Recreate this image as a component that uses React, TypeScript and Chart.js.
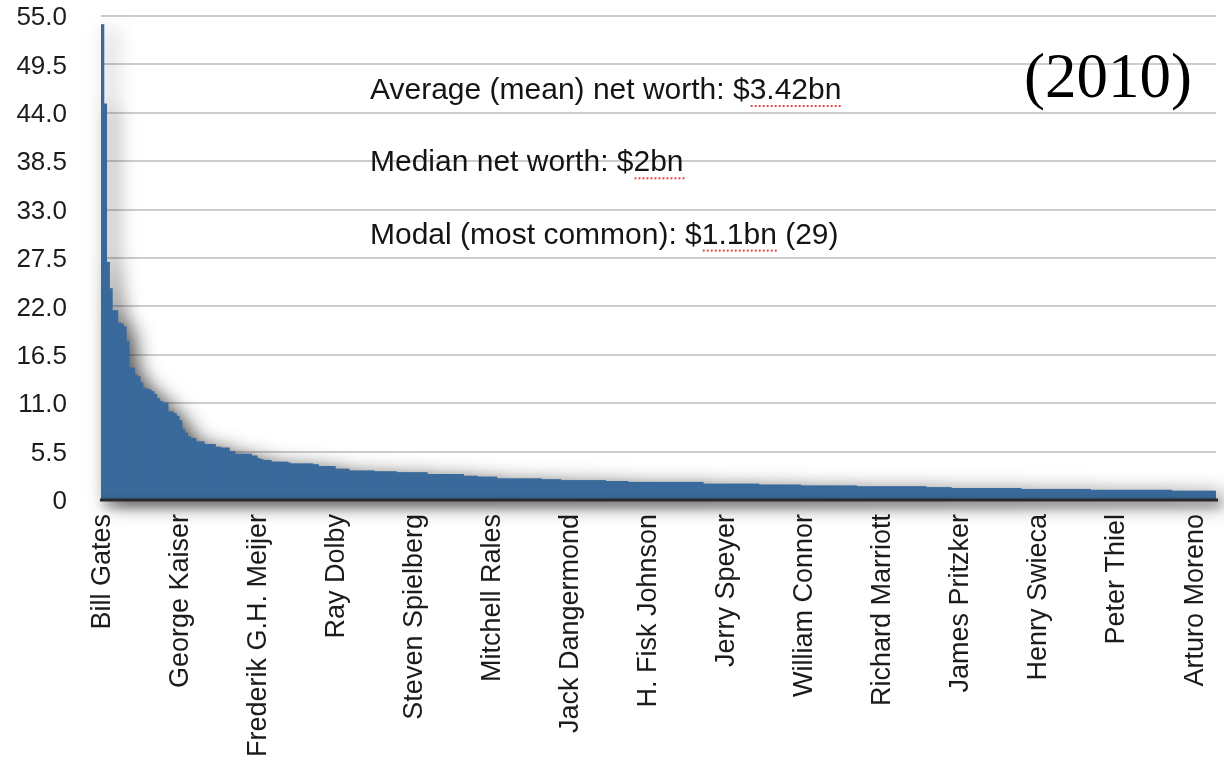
import React, { useEffect, useRef } from 'react';
import { Chart, registerables } from 'chart.js';

Chart.register(...registerables);

// Net worth in US$ billions, ranked from richest to poorest (400 people).
const netWorth = [
  54, 45, 27, 24, 21.5, 21.5, 20.1, 20, 19.7, 18,
  15, 15, 14.2, 14, 13.3, 12.7, 12.6, 12.5, 12.3, 12,
  11.5, 11.2, 11, 11, 10, 10, 9.8, 9.5, 9, 8,
  7.6, 7.2, 7, 7, 6.6, 6.6, 6.6, 6.3, 6.3, 6.3,
  6.3, 6, 6, 5.9, 5.9, 5.9, 5.5, 5.5, 5.2, 5.2,
  5.2, 5.2, 5.2, 5.2, 5, 5, 4.7, 4.6, 4.5, 4.5,
  4.5, 4.3, 4.3, 4.3, 4.3, 4.3, 4.3, 4.2, 4.1, 4.1,
  4.1, 4.1, 4.1, 4.1, 4.1, 4.1, 4, 4, 3.8, 3.8,
  3.8, 3.8, 3.8, 3.8, 3.5, 3.5, 3.5, 3.5, 3.5, 3.3,
  3.3, 3.3, 3.3, 3.3, 3.3, 3.3, 3.3, 3.3, 3.2, 3.2,
  3.2, 3.2, 3.2, 3.2, 3.2, 3.2, 3.1, 3.1, 3.1, 3.1,
  3.1, 3.1, 3.1, 3.1, 3.1, 3.1, 3.1, 2.9, 2.9, 2.9,
  2.9, 2.9, 2.9, 2.9, 2.9, 2.9, 2.9, 2.9, 2.9, 2.9,
  2.7, 2.7, 2.7, 2.7, 2.7, 2.6, 2.6, 2.6, 2.6, 2.6,
  2.6, 2.6, 2.4, 2.4, 2.4, 2.4, 2.4, 2.4, 2.4, 2.4,
  2.4, 2.4, 2.4, 2.4, 2.4, 2.4, 2.4, 2.4, 2.3, 2.3,
  2.3, 2.3, 2.3, 2.3, 2.3, 2.2, 2.2, 2.2, 2.2, 2.2,
  2.2, 2.2, 2.2, 2.2, 2.2, 2.2, 2.2, 2.2, 2.2, 2.2,
  2.2, 2.1, 2.1, 2.1, 2.1, 2.1, 2.1, 2.1, 2.1, 2,
  2, 2, 2, 2, 2, 2, 2, 2, 2, 2,
  2, 2, 2, 2, 2, 2, 2, 2, 2, 2,
  2, 2, 2, 2, 2, 2, 1.8, 1.8, 1.8, 1.8,
  1.8, 1.8, 1.8, 1.8, 1.8, 1.8, 1.8, 1.8, 1.8, 1.8,
  1.8, 1.8, 1.8, 1.8, 1.8, 1.8, 1.7, 1.7, 1.7, 1.7,
  1.7, 1.7, 1.7, 1.7, 1.7, 1.7, 1.7, 1.7, 1.7, 1.7,
  1.7, 1.6, 1.6, 1.6, 1.6, 1.6, 1.6, 1.6, 1.6, 1.6,
  1.6, 1.6, 1.6, 1.6, 1.6, 1.6, 1.6, 1.6, 1.6, 1.6,
  1.6, 1.5, 1.5, 1.5, 1.5, 1.5, 1.5, 1.5, 1.5, 1.5,
  1.5, 1.5, 1.5, 1.5, 1.5, 1.5, 1.5, 1.5, 1.5, 1.5,
  1.5, 1.5, 1.5, 1.5, 1.5, 1.5, 1.4, 1.4, 1.4, 1.4,
  1.4, 1.4, 1.4, 1.4, 1.4, 1.3, 1.3, 1.3, 1.3, 1.3,
  1.3, 1.3, 1.3, 1.3, 1.3, 1.3, 1.3, 1.3, 1.3, 1.3,
  1.3, 1.3, 1.3, 1.3, 1.3, 1.3, 1.3, 1.3, 1.3, 1.3,
  1.2, 1.2, 1.2, 1.2, 1.2, 1.2, 1.2, 1.2, 1.2, 1.2,
  1.2, 1.2, 1.2, 1.2, 1.2, 1.2, 1.2, 1.2, 1.2, 1.2,
  1.2, 1.2, 1.2, 1.2, 1.2, 1.1, 1.1, 1.1, 1.1, 1.1,
  1.1, 1.1, 1.1, 1.1, 1.1, 1.1, 1.1, 1.1, 1.1, 1.1,
  1.1, 1.1, 1.1, 1.1, 1.1, 1.1, 1.1, 1.1, 1.1, 1.1,
  1.1, 1.1, 1.1, 1.1, 1, 1, 1, 1, 1, 1,
  1, 1, 1, 1, 1, 1, 1, 1, 1, 1,
];

// Names printed under the axis: one every LABEL_EVERY places in the ranking.
const labeledNames = [
  'Bill Gates',
  'George Kaiser',
  'Frederik G.H. Meijer',
  'Ray Dolby',
  'Steven Spielberg',
  'Mitchell Rales',
  'Jack Dangermond',
  'H. Fisk Johnson',
  'Jerry Speyer',
  'William Connor',
  'Richard Marriott',
  'James Pritzker',
  'Henry Swieca',
  'Peter Thiel',
  'Arturo Moreno',
];
const LABEL_EVERY = 28;

const yTicks = [0, 5.5, 11, 16.5, 22, 27.5, 33, 38.5, 44, 49.5, 55];

const summaryLines = [
  { text: 'Average (mean) net worth: $3.42bn', flagged: '3.42bn' },
  { text: 'Median net worth: $2bn', flagged: '2bn' },
  { text: 'Modal (most common): $1.1bn (29)', flagged: '1.1bn' },
];
const yearLabel = '(2010)';

const BAR_COLOR = '#3a6a9b';
const SANS = '"Liberation Sans", Arial, Helvetica, sans-serif';
const SERIF = '"Liberation Serif", "Times New Roman", serif';

const categories = netWorth.map((_, i) =>
  i % LABEL_EVERY === 0 ? labeledNames[i / LABEL_EVERY] ?? '' : ''
);

// Soft drop shadow behind the bar silhouette (one stepped outline, so the
// individual bars do not shade each other).
const stepShadowPlugin = {
  id: 'stepShadow',
  beforeDatasetsDraw(chart: any) {
    const bars = chart.getDatasetMeta(0).data as any[];
    if (!bars.length) return;
    const base = chart.scales.y.getPixelForValue(0);
    const ctx: CanvasRenderingContext2D = chart.ctx;
    ctx.save();
    ctx.beginPath();
    ctx.moveTo(bars[0].x - bars[0].width / 2, base);
    for (const b of bars) {
      ctx.lineTo(b.x - b.width / 2, b.y);
      ctx.lineTo(b.x + b.width / 2, b.y);
    }
    const last = bars[bars.length - 1];
    ctx.lineTo(last.x + last.width / 2, base);
    ctx.closePath();
    ctx.shadowColor = 'rgba(0,0,0,0.7)';
    ctx.shadowBlur = 20;
    ctx.shadowOffsetX = 8;
    ctx.shadowOffsetY = 4;
    ctx.fillStyle = BAR_COLOR;
    ctx.fill();
    ctx.restore();
  },
};

// Dark baseline with its shadow, the summary statistics and the year.
const overlayPlugin = {
  id: 'overlay',
  afterDatasetsDraw(chart: any) {
    const ctx: CanvasRenderingContext2D = chart.ctx;
    const area = chart.chartArea;
    const y0 = chart.scales.y.getPixelForValue(0);

    ctx.save();
    ctx.shadowColor = 'rgba(0,0,0,0.55)';
    ctx.shadowBlur = 10;
    ctx.shadowOffsetX = 3;
    ctx.shadowOffsetY = 4;
    ctx.strokeStyle = '#2a2a2a';
    ctx.lineWidth = 3;
    ctx.beginPath();
    ctx.moveTo(area.left - 1, y0);
    ctx.lineTo(area.right + 2, y0);
    ctx.stroke();
    ctx.restore();

    ctx.save();
    ctx.font = `30px ${SANS}`;
    ctx.fillStyle = '#141414';
    ctx.textAlign = 'left';
    ctx.textBaseline = 'alphabetic';
    const textX = area.left + 269;
    summaryLines.forEach((line, i) => {
      const baseline = area.top + 83 + i * 72.3;
      ctx.fillText(line.text, textX, baseline);
      const at = line.text.indexOf(line.flagged);
      const startX = textX + ctx.measureText(line.text.slice(0, at)).width;
      const endX = startX + ctx.measureText(line.flagged).width;
      ctx.fillStyle = '#e0494b';
      for (let x = startX + 1; x < endX; x += 4) {
        ctx.fillRect(x, baseline + 6, 2, 2);
      }
      ctx.fillStyle = '#141414';
    });

    ctx.font = `63px ${SERIF}`;
    ctx.fillStyle = '#000';
    ctx.textAlign = 'right';
    ctx.fillText(yearLabel, area.right - 24, area.top + 81);
    ctx.restore();
  },
};

export default function App() {
  const canvasRef = useRef<HTMLCanvasElement | null>(null);

  useEffect(() => {
    const canvas = canvasRef.current;
    if (!canvas) return;
    const chart = new Chart(canvas, {
      type: 'bar',
      data: {
        labels: categories,
        datasets: [
          {
            data: netWorth,
            backgroundColor: BAR_COLOR,
            borderWidth: 0,
            barPercentage: 1,
            categoryPercentage: 1,
            inflateAmount: 0.5,
          } as any,
        ],
      },
      options: {
        responsive: false,
        animation: false,
        devicePixelRatio: 1,
        layout: { padding: { top: 16, right: 8, left: 0, bottom: 0 } },
        plugins: {
          legend: { display: false },
          tooltip: { enabled: false },
        },
        scales: {
          x: {
            grid: { display: false, drawTicks: false },
            border: { display: false },
            ticks: {
              autoSkip: false,
              minRotation: 90,
              maxRotation: 90,
              padding: 14,
              color: '#1c1c1c',
              font: { family: SANS, size: 27 },
            },
            afterFit: (scale: any) => {
              scale.height = 262;
              scale.paddingLeft = 0;
              scale.paddingRight = 0;
            },
          },
          y: {
            min: 0,
            max: 55,
            grid: { color: '#cdcdcd', lineWidth: 2, drawTicks: false },
            border: { display: false },
            ticks: {
              padding: 34,
              labelOffset: 2,
              color: '#1c1c1c',
              font: { family: SANS, size: 26 },
              callback: (v: any) => (Number(v) === 0 ? '0' : Number(v).toFixed(1)),
            },
            afterBuildTicks: (scale: any) => {
              scale.ticks = yTicks.map((value) => ({ value }));
            },
            afterFit: (scale: any) => {
              scale.width = 101;
              scale.paddingTop = 0;
              scale.paddingBottom = 0;
            },
          },
        },
      } as any,
      plugins: [stepShadowPlugin, overlayPlugin],
    });
    return () => chart.destroy();
  }, []);

  return (
    <div
      style={{
        position: 'fixed',
        left: 0,
        top: 0,
        width: 1224,
        height: 762,
        background: '#fff',
      }}
    >
      <canvas ref={canvasRef} width={1224} height={762} />
    </div>
  );
}
